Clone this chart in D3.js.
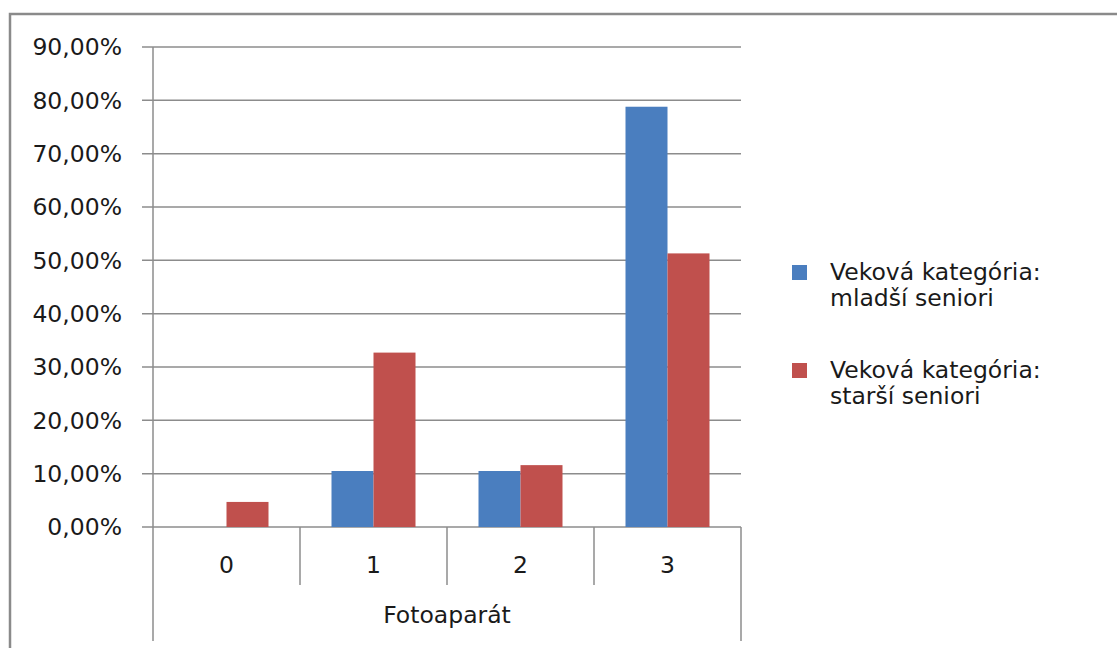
<!DOCTYPE html>
<html><head><meta charset="utf-8">
<script src="https://cdn.jsdelivr.net/npm/d3@7"></script>
<style>body{margin:0;background:#fff}svg{display:block}text{font-family:"DejaVu Sans",Verdana,sans-serif;fill:#1a1a1a}</style>
</head><body><svg id="c" width="1117" height="648"></svg>
<script>
const categories = ["0","1","2","3"];
const seriesNames = ["Veková kategória:|mladší seniori","Veková kategória:|starší seniori"];
const younger = [0, 10.5, 10.5, 78.8];
const older = [4.7, 32.7, 11.6, 51.3];
const yTicks = [0,10,20,30,40,50,60,70,80,90];
const axisTitle = "Fotoaparát";
const colors = ["#4a7ebf","#c0504d"];

(function(){
const svg = d3.select("#c");
svg.append("rect").attr("x",10).attr("y",14).attr("width",1130).attr("height",660)
  .attr("fill","none").attr("stroke","#8a8a8a").attr("stroke-width",2.5);

const pL=153, pR=741, pT=47, pB=527;
const fs="23.5px";
const x = d3.scaleBand().domain(categories).range([pL,pR]).paddingInner(0).paddingOuter(0);
const y = d3.scaleLinear().domain([0,90]).range([pB,pT]);

const g = svg.append("g");
g.selectAll("line.grid").data(yTicks).join("line")
  .attr("x1",pL-11).attr("x2",pR).attr("y1",d=>y(d)).attr("y2",d=>y(d))
  .attr("stroke","#8c8c8c").attr("stroke-width",1.5);
g.selectAll("text.yl").data(yTicks).join("text")
  .attr("x",122).attr("y",d=>y(d)).attr("dy","0.36em").attr("text-anchor","end")
  .style("font-size",fs)
  .text(d=>d3.format(".2f")(d).replace(".",",")+"%");

const inner = d3.scaleBand().domain([0,1]).range([0,x.bandwidth()]).paddingInner(0).paddingOuter(0.75);
categories.forEach((c,i)=>{
  [younger[i],older[i]].forEach((v,s)=>{
    if(v<=0) return;
    svg.append("rect").attr("x",x(c)+inner(s)).attr("y",y(v)).attr("width",inner.bandwidth())
      .attr("height",y(0)-y(v)).attr("fill",colors[s]);
  });
});

const axisC="#8c8c8c";
svg.append("line").attr("x1",pL).attr("x2",pL).attr("y1",pT).attr("y2",641).attr("stroke",axisC).attr("stroke-width",1.5);
svg.append("line").attr("x1",pR).attr("x2",pR).attr("y1",pB).attr("y2",641).attr("stroke",axisC).attr("stroke-width",1.5);
categories.slice(1).forEach(c=>{
  svg.append("line").attr("x1",x(c)).attr("x2",x(c)).attr("y1",pB).attr("y2",585).attr("stroke",axisC).attr("stroke-width",1.5);
});
svg.selectAll("text.xl").data(categories).join("text")
  .attr("x",d=>x(d)+x.bandwidth()/2).attr("y",573).attr("text-anchor","middle")
  .style("font-size",fs).text(d=>d);
svg.append("text").attr("x",(pL+pR)/2).attr("y",623).attr("text-anchor","middle")
  .style("font-size",fs).text(axisTitle);

seriesNames.forEach((n,i)=>{
  const y0 = 265 + i*98;
  svg.append("rect").attr("x",792).attr("y",y0).attr("width",15).attr("height",15).attr("fill",colors[i]);
  n.split("|").forEach((t,j)=>{
    svg.append("text").attr("x",830).attr("y",y0+15+j*26).style("font-size",fs).text(t);
  });
});
})();
</script></body></html>
